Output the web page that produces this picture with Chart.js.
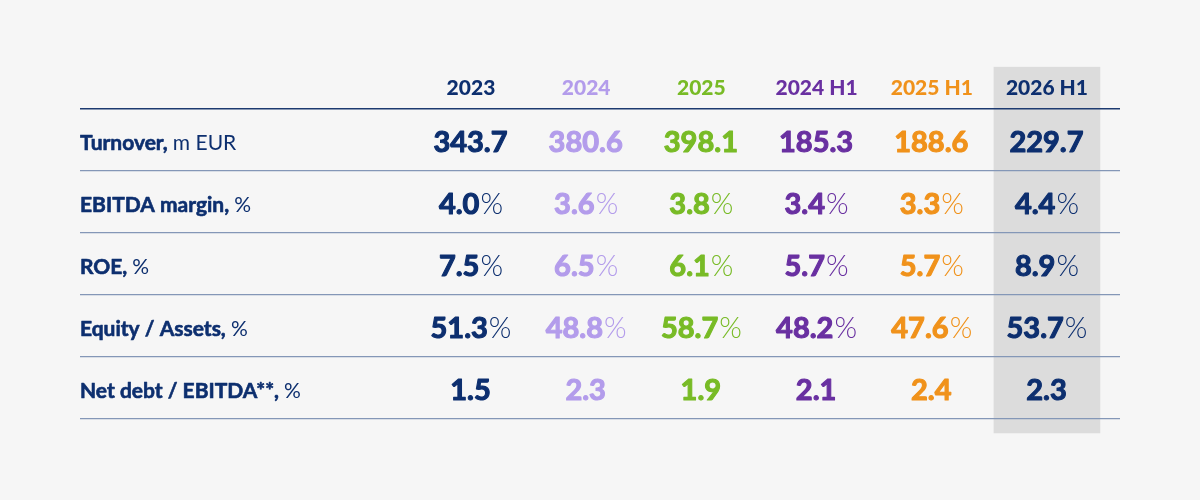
<!DOCTYPE html>
<html>
<head>
<meta charset="utf-8">
<script src="https://cdn.jsdelivr.net/npm/chart.js@4.4.1/dist/chart.umd.min.js"></script>
<style>
  html, body { margin: 0; padding: 0; background: #f6f6f6; }
  #wrap { width: 1200px; height: 500px; }
</style>
</head>
<body>
<div id="wrap"><canvas id="kpiTable" width="1200" height="500"></canvas></div>
<script>
// columns of the table
const periods = ['2023', '2024', '2025', '2024 H1', '2025 H1', '2026 H1'];
const periodColors = ['#0d2f6f', '#b39ceb', '#78bb26', '#6930a1', '#f0921b', '#0d2f6f'];

// rows of the table
const rowNames = ['Turnover,', 'EBITDA margin,', 'ROE,', 'Equity / Assets,', 'Net debt / EBITDA**,'];
const rowUnits = ['m EUR', '%', '%', '%', '%'];
const valueSuffix = ['', '%', '%', '%', ''];

// values per row
const turnover = [343.7, 380.6, 398.1, 185.3, 188.6, 229.7];
const ebitdaMargin = [4.0, 3.6, 3.8, 3.4, 3.3, 4.4];
const roe = [7.5, 6.5, 6.1, 5.7, 5.7, 8.9];
const equityAssets = [51.3, 48.8, 58.7, 48.2, 47.6, 53.7];
const netDebtEbitda = [1.5, 2.3, 1.9, 2.1, 2.4, 2.3];

const rows = [turnover, ebitdaMargin, roe, equityAssets, netDebtEbitda];
const highlightCol = 5;

const FONT = 'Lato, "DejaVu Sans", sans-serif';

const datasets = rows.map((vals, r) => ({
    label: rowNames[r],
    data: vals.map((v, c) => ({ x: c, y: r, v: v })),
    pointRadius: 0,
    pointHoverRadius: 0
}));

// fill + thin stroke in same colour to get a heavier weight
function heavyText(ctx, txt, x, y, stroke) {
    ctx.fillText(txt, x, y);
    if (stroke) {
        ctx.lineWidth = stroke;
        ctx.lineJoin = 'round';
        ctx.strokeStyle = ctx.fillStyle;
        ctx.strokeText(txt, x, y);
    }
}

const tablePlugin = {
    id: 'tablePlugin',
    beforeDraw(chart) {
        const { ctx, scales: { x, y } } = chart;
        // highlight column behind grid
        const left = x.getPixelForValue(highlightCol - 0.463);
        const right = x.getPixelForValue(highlightCol + 0.463);
        const top = y.getPixelForValue(-1.18);
        const bottom = y.getPixelForValue(4.73);
        ctx.save();
        ctx.fillStyle = '#dcdcdc';
        ctx.fillRect(left, top, right - left, bottom - top);
        ctx.restore();
    },
    afterDatasetsDraw(chart) {
        const { ctx, chartArea, scales: { y } } = chart;
        ctx.save();
        ctx.textBaseline = 'alphabetic';
        // row labels
        rowNames.forEach((name, r) => {
            const py = y.getPixelForValue(r) + 10;
            ctx.textAlign = 'left';
            ctx.fillStyle = '#0d2f6f';
            ctx.font = '700 21px ' + FONT;
            heavyText(ctx, name, chartArea.left, py, 0.6);
            const w = ctx.measureText(name + ' ').width;
            ctx.font = '400 21px ' + FONT;
            ctx.fillText(rowUnits[r], chartArea.left + w, py);
        });
        // cell values
        chart.data.datasets.forEach((ds, r) => {
            const meta = chart.getDatasetMeta(r);
            meta.data.forEach((pt, c) => {
                const txt = ds.data[c].v.toFixed(1);
                const suf = valueSuffix[r];
                ctx.font = '700 29px ' + FONT;
                const w1 = ctx.measureText(txt).width + 1;
                ctx.font = '300 29px ' + FONT;
                const w2 = suf ? ctx.measureText(suf).width : 0;
                const startX = pt.x - (w1 + w2) / 2;
                const py = pt.y + 12;
                ctx.textAlign = 'left';
                ctx.fillStyle = periodColors[c];
                ctx.font = '700 29px ' + FONT;
                heavyText(ctx, txt, startX, py, 1.1);
                if (suf) {
                    ctx.font = '300 29px ' + FONT;
                    ctx.fillText(suf, startX + w1, py);
                }
            });
        });
        ctx.restore();
    }
};

new Chart(document.getElementById('kpiTable'), {
    type: 'scatter',
    data: { datasets: datasets },
    options: {
        responsive: false,
        animation: false,
        events: [],
        layout: { padding: { left: 80, right: 80, top: 67, bottom: 81 } },
        plugins: {
            legend: { display: false },
            tooltip: { enabled: false }
        },
        scales: {
            x: {
                type: 'linear',
                position: 'top',
                min: -3.394,
                max: 5.634,
                afterBuildTicks: (scale) => {
                    scale.ticks = periods.map((p, i) => ({ value: i }));
                },
                afterFit: (scale) => { scale.height = 42; },
                ticks: {
                    autoSkip: false,
                    maxRotation: 0,
                    padding: 8,
                    callback: (v) => periods[v],
                    color: (c) => periodColors[c.index],
                    font: { family: FONT, size: 21, weight: '900' }
                },
                grid: { display: false, drawTicks: false },
                border: { display: false }
            },
            y: {
                type: 'linear',
                reverse: true,
                min: -0.5,
                max: 4.5,
                afterBuildTicks: (scale) => {
                    scale.ticks = [-0.5, 0.5, 1.5, 2.5, 3.5, 4.5].map(v => ({ value: v }));
                },
                afterFit: (scale) => { scale.width = 0; },
                ticks: { display: false },
                grid: {
                    drawTicks: false,
                    lineWidth: (c) => c.index === 0 ? 1.6 : 1.2,
                    color: (c) => c.index === 0 ? '#1d3a70' : '#8497b7'
                },
                border: { display: false }
            }
        }
    },
    plugins: [tablePlugin]
});
</script>
</body>
</html>
